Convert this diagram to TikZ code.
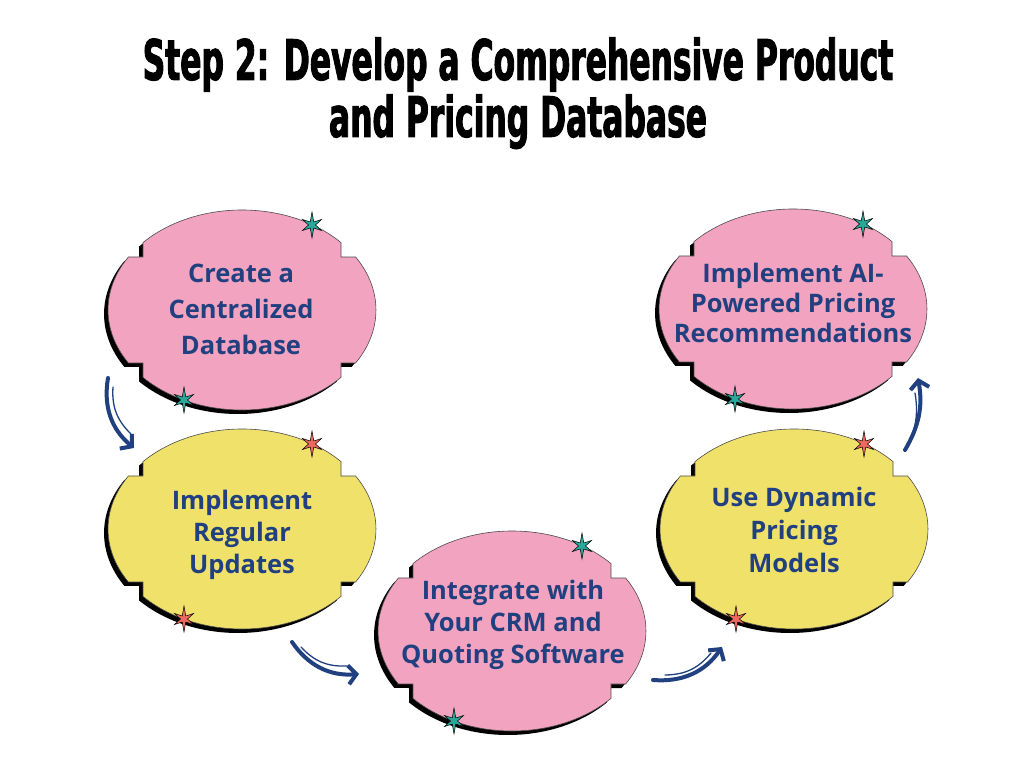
\documentclass[tikz,border=0pt]{standalone}
\usepackage{fontspec}
\setmainfont{Open Sans}
\newfontfamily\titlefont{DejaVu Sans}[FakeStretch=0.56,FakeBold=1.6]
\usetikzlibrary{arrows.meta,positioning}

\definecolor{boxpink}{RGB}{242,163,192}
\definecolor{boxyellow}{RGB}{240,225,106}
\definecolor{starteal}{RGB}{42,168,154}
\definecolor{starred}{RGB}{238,106,94}
\definecolor{inkblue}{RGB}{33,64,128}

% outline of one notched oval, centre at (0,0)
\newcommand{\blobpath}{(113.6,-53) arc[start angle=-32,end angle=32,x radius=134pt,y radius=100pt]
  -- (99,53) -- (99,67.4) arc[start angle=42.37,end angle=137.63,x radius=134pt,y radius=100pt]
  -- (-99,53) -- (-113.6,53) arc[start angle=148,end angle=212,x radius=134pt,y radius=100pt]
  -- (-99,-53) -- (-99,-67.4) arc[start angle=222.37,end angle=317.63,x radius=134pt,y radius=100pt]
  -- (99,-53) -- cycle}

\newcommand{\sparkle}[2]{%
  \filldraw[fill=#2,draw=black,line width=0.5pt,shift={#1}] (90:13pt)
    \foreach \a/\r in {120/3.5,150/11,180/3.5,210/11,240/3.5,270/13,300/3.5,330/11,0/3.5,30/11,60/3.5} {-- (\a:\r pt)} -- cycle;}

\newcommand{\ovalbox}[3]{%
  \begin{scope}[shift={#1}]
    \fill[black,shift={(-4,-4)}] \blobpath;
    \filldraw[fill=#2,draw=black!70,line width=0.6pt] \blobpath;
    \sparkle{(70,85)}{#3}
    \sparkle{(-58,-90)}{#3}
  \end{scope}}

\begin{document}
\begin{tikzpicture}[x=1pt,y=1pt,
  titletext/.style={font=\titlefont\bfseries\fontsize{56}{56}\selectfont,anchor=base,inner sep=0pt},
  boxtext/.style={text=inkblue,align=center,font=\bfseries\fontsize{25.5}{#1}\selectfont},
  flow/.style={draw=inkblue,line width=4pt,line cap=round,-{Straight Barb[length=8pt,width=19pt,line width=4pt]}},
  flowthin/.style={draw=inkblue,line width=1.3pt,line cap=round}]
  \useasboundingbox[fill=white] (0,0) rectangle (1024,768);

  \node[titletext] (title1) at (518,688) {Step 2: Develop a Comprehensive Product};
  \node[titletext] (title2) at (518,631) {and Pricing Database};

  \ovalbox{(242,458)}{boxpink}{starteal}
  \ovalbox{(242,239)}{boxyellow}{starred}
  \ovalbox{(512,137)}{boxpink}{starteal}
  \ovalbox{(794,239)}{boxyellow}{starred}
  \ovalbox{(793,459)}{boxpink}{starteal}

  \node[boxtext=36] (central) at (241,459) {Create a\\Centralized\\Database};
  \node[boxtext=32] (updates) at (242,233) {Implement\\Regular\\Updates};
  \node[boxtext=32] (crm) at (513,143) {Integrate with\\Your CRM and\\Quoting Software};
  \node[boxtext=33] (dynamic) at (794,238) {Use Dynamic\\Pricing\\Models};
  \node[boxtext=30] (ai) at (793,465) {Implement AI-\\Powered Pricing\\Recommendations};

  % arrows between the steps
  \coordinate (a1s) at (108,390); \coordinate (a1e) at (134,320);
  \coordinate (a2s) at (292,126); \coordinate (a2e) at (359,94);
  \coordinate (a3s) at (653,88);  \coordinate (a3e) at (722,121);
  \coordinate (a4s) at (905,318); \coordinate (a4e) at (918,390);
  \draw[flow] (a1s) to[bend right=30] (a1e);
  \draw[flowthin] (113,381) to[bend right=25] (131,334);
  \draw[flow] (a2s) to[bend right=30] (a2e);
  \draw[flowthin] (301,121) to[bend right=25] (347,102);
  \draw[flow] (a3s) to[bend right=30] (a3e);
  \draw[flowthin] (665,93) to[bend right=25] (711,115);
  \draw[flow] (a4s) to[bend right=20] (a4e);
  \draw[flowthin] (910,327) to[bend right=15] (915,375);
\end{tikzpicture}
\end{document}
